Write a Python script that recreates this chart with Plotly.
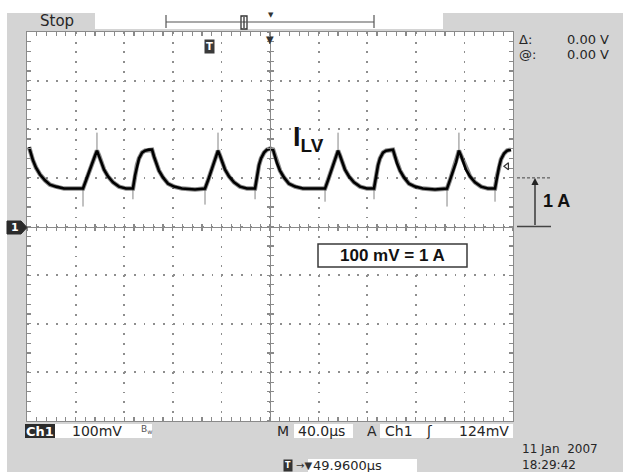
import plotly.graph_objects as go

# ---------------- data (read from the screen) ----------------
# time in microseconds (40 us/div, centre = 0), current probe voltage in mV (100 mV/div = 1 A/div)
t_us = [-198.3, -196.7, -195.1, -192.6, -189.3, -185.2, -181.1, -176.1, -169.5, -161.3, -153.9,
        -151.4, -149.0, -146.5, -144.0, -142.4, -140.7, -139.1, -136.6, -133.3, -129.2, -124.3, -118.5, -112.8,
        -111.1, -109.5, -107.8, -105.3, -102.9, -99.6, -97.1, -95.5, -93.8, -91.4, -88.1, -83.9, -79.0, -72.4, -61.7, -53.5,
        -51.0, -48.6, -46.1, -43.6, -42.8, -41.2, -39.5, -37.0, -33.7, -29.6, -24.7, -18.9, -12.3,
        -10.7, -9.1, -7.4, -4.9, -2.5, 0.0, 2.5, 4.1, 5.8, 8.2, 11.5, 15.6, 20.6, 27.2, 37.0, 45.3,
        47.7, 50.2, 52.7, 55.1, 56.0, 57.6, 59.3, 61.7, 65.0, 69.1, 74.1, 79.8, 85.6,
        87.2, 88.9, 90.5, 93.0, 95.5, 98.8, 101.2, 102.9, 104.5, 107.0, 110.3, 114.4, 119.3, 125.9, 135.8, 145.7,
        148.1, 150.6, 153.1, 154.7, 155.5, 157.2, 158.8, 161.3, 164.6, 168.7, 173.7, 179.4, 185.2,
        186.8, 188.5, 190.1, 192.6, 195.1, 198.3]
i_mv = [163, 148, 136, 121, 107, 95, 86, 82, 78, 78, 78,
        95, 113, 130, 146, 156, 146, 134, 117, 103, 91, 82, 78, 78,
        105, 126, 140, 152, 156, 158, 158, 144, 130, 115, 101, 88, 82, 78, 76, 78,
        95, 113, 132, 148, 156, 146, 134, 117, 103, 91, 82, 78, 78,
        105, 126, 140, 152, 158, 160, 158, 144, 130, 115, 101, 88, 82, 78, 78, 78,
        95, 113, 132, 148, 156, 146, 134, 117, 103, 91, 82, 78, 78,
        105, 126, 140, 152, 156, 158, 158, 144, 130, 115, 101, 88, 82, 78, 76, 78,
        95, 113, 132, 148, 156, 146, 134, 117, 103, 91, 82, 78, 78,
        103, 123, 138, 150, 156, 158]

# switching spikes (time, start level, end level)
spike_t = [-153.9, -142.4, -112.8, -53.5, -42.8, -12.3, 45.3, 56.0, 85.6, 145.7, 155.5, 185.2]
spike_from = [78, 156, 78, 78, 156, 78, 78, 156, 78, 78, 156, 78]
spike_to = [41, 193, 56, 45, 193, 56, 51, 193, 56, 41, 193, 51]

trigger_level_mv = 124
trigger_offset_us = -49.96
scale_mv = 100  # 100 mV = 1 A

# ---------------- geometry helpers (decorations only) ----------------
L, R, T, B = 27, 513, 32, 421
W, H = R - L, B - T


def PX(px):
    return (px - L) / W


def PY(py):
    return (B - py) / H


FONT = "DejaVu Sans"
INK = "#262626"
GRID = "#8e8e8e"
TICK = "#8a8a8a"

fig = go.Figure()

# fuzzy envelope + core trace
fig.add_trace(go.Scatter(x=t_us, y=i_mv, mode="lines",
                         line=dict(color="rgba(0,0,0,0.45)", width=4.5),
                         hoverinfo="skip", showlegend=False))
sx, sy = [], []
for t, a, b in zip(spike_t, spike_from, spike_to):
    sx += [t, t, None]
    sy += [a, b, None]
fig.add_trace(go.Scatter(x=sx, y=sy, mode="lines",
                         line=dict(color="rgba(50,50,50,0.6)", width=1),
                         hoverinfo="skip", showlegend=False))
fig.add_trace(go.Scatter(x=t_us, y=i_mv, mode="lines",
                         line=dict(color="#000000", width=2.6),
                         hoverinfo="skip", showlegend=False))
# trigger level indicator on the right edge
fig.add_trace(go.Scatter(x=[195], y=[trigger_level_mv], mode="markers",
                         marker=dict(symbol="triangle-left-open", size=6, color="#333",
                                     line=dict(width=1.2, color="#333")),
                         hoverinfo="skip", showlegend=False))
# invisible traces for the centre-cross axes
fig.add_trace(go.Scatter(x=[None], y=[None], xaxis="x2", yaxis="y2", showlegend=False))
fig.add_trace(go.Scatter(x=[None], y=[None], xaxis="x3", yaxis="y3", showlegend=False))

XR = [-200, 200]
YR = [-400, 400]

main_ax = dict(showgrid=True, gridcolor=GRID, gridwidth=1.8, griddash="1.8px,7.92px",
               zeroline=False, showticklabels=False, ticks="inside", ticklen=4,
               tickcolor=TICK, tickwidth=1.2, showline=True, linecolor="#8a8a8a", linewidth=1.3,
               mirror="ticks", fixedrange=True)
fig.update_layout(
    xaxis=dict(range=XR, dtick=40, minor=dict(dtick=8, ticks="inside", ticklen=4, tickcolor=TICK,
                                               tickwidth=1.2, showgrid=False), **main_ax),
    yaxis=dict(range=YR, dtick=100, minor=dict(dtick=20, ticks="inside", ticklen=4, tickcolor=TICK,
                                                tickwidth=1.2, showgrid=False), **main_ax),
)
centre = dict(showgrid=False, zeroline=False, showticklabels=False, fixedrange=True, ticklen=3,
              tickcolor=TICK, tickwidth=1.2)
fig.update_layout(
    xaxis2=dict(range=XR, overlaying="x", anchor="free", position=0.5, dtick=40, ticks="outside",
                showline=True, linecolor="#8a8a8a", linewidth=1.2,
                minor=dict(dtick=8, ticks="outside", ticklen=3, tickcolor=TICK, tickwidth=1.2), **centre),
    yaxis2=dict(range=YR, overlaying="y", anchor="free", position=0.5, dtick=100, ticks="outside",
                showline=True, linecolor="#8a8a8a", linewidth=1.2,
                minor=dict(dtick=20, ticks="outside", ticklen=3, tickcolor=TICK, tickwidth=1.2), **centre),
    xaxis3=dict(range=XR, overlaying="x", anchor="free", position=0.5, dtick=40, ticks="inside",
                showline=False, minor=dict(dtick=8, ticks="inside", ticklen=3, tickcolor=TICK, tickwidth=1.2), **centre),
    yaxis3=dict(range=YR, overlaying="y", anchor="free", position=0.5, dtick=100, ticks="inside",
                showline=False, minor=dict(dtick=20, ticks="inside", ticklen=3, tickcolor=TICK, tickwidth=1.2), **centre),
)

shapes = []


def rect(x0, y0, x1, y1, fill, line=None, lw=0):
    shapes.append(dict(type="rect", xref="paper", yref="paper",
                       x0=PX(x0), x1=PX(x1), y0=PY(y1), y1=PY(y0),
                       fillcolor=fill, line=dict(color=line or fill, width=lw), layer="below"))


def seg(x0, y0, x1, y1, color="#444", w=1, dash=None):
    d = dict(type="line", xref="paper", yref="paper", x0=PX(x0), x1=PX(x1), y0=PY(y0), y1=PY(y1),
             line=dict(color=color, width=w))
    if dash:
        d["line"]["dash"] = dash
    shapes.append(d)


# white frame at top / left of the screenshot
rect(0, 0, 623, 13, "white")
rect(0, 0, 7, 472, "white")
# record-view bar
rect(95, 13, 443, 29, "white")
seg(166, 15, 166, 28, "#555", 1.2)
seg(374, 15, 374, 28, "#555", 1.2)
seg(166, 22, 374, 22, "#555", 1.2)
rect(241, 16, 247, 29, "white", "#333", 1.3)
seg(244, 17, 244, 28, "#333", 1.3)
# status bar boxes
rect(25, 424, 55, 438, "#2b2b2b")
rect(55, 424, 152, 438, "white")
rect(294, 424, 353, 438, "white")
rect(380, 424, 513, 438, "white")
rect(308, 459, 417, 472, "white")
# ground marker "1"
shapes.append(dict(type="path", xref="paper", yref="paper",
                   path=f"M {PX(7)},{PY(221)} L {PX(21)},{PY(221)} L {PX(27)},{PY(227.5)} "
                        f"L {PX(21)},{PY(234)} L {PX(7)},{PY(234)} Z",
                   fillcolor="#2b2b2b", line=dict(color="#2b2b2b", width=1)))
# 100 mV = 1 A label box
shapes.append(dict(type="rect", xref="paper", yref="paper", x0=PX(318), x1=PX(467), y0=PY(267), y1=PY(244),
                   fillcolor="white", line=dict(color="#3a3a3a", width=1.5)))
# 1 A scale marker (0 to 100 mV)
shapes.append(dict(type="line", xref="paper", yref="y", x0=PX(517), x1=PX(551), y0=0, y1=0,
                   line=dict(color="#444", width=1.3)))
shapes.append(dict(type="line", xref="paper", yref="y", x0=PX(517), x1=PX(551), y0=scale_mv, y1=scale_mv,
                   line=dict(color="#444", width=1, dash="3px,2px")))

ann = []


def txt(s, px, py, xa="left", size=14, color=INK, family=FONT, **kw):
    ann.append(dict(text=s, x=PX(px), y=PY(py), xref="paper", yref="paper", xanchor=xa, yanchor="middle",
                    showarrow=False, font=dict(family=family, size=size, color=color), **kw))


txt("Stop", 57, 21, "center", 15)
txt("▼", 271, 15, "center", 7, "#333")
txt("Δ:", 517, 40, "left", 13)
txt("0.00 V", 611, 40, "right", 13)
txt("@:", 517, 54, "left", 13)
txt("0.00 V", 611, 54, "right", 13)
txt("<b>Ch1</b>", 40, 431, "center", 13, "white")
txt("100mV", 70, 431, "left", 14)
txt("B<sub>w</sub>", 146, 430, "center", 9, "#555")
txt("M", 283, 431, "center", 14)
txt("40.0µs", 296, 431, "left", 14)
txt("A", 372, 431, "center", 14)
txt("Ch1", 383, 431, "left", 14)
txt("ʃ", 429, 431, "center", 14)
txt("124mV", 511, 431, "right", 14)
txt("11 Jan  2007<br>18:29:42", 520, 456.5, "left", 12, align="left")
txt("<b>T</b>", 288, 465, "center", 8, "white", bgcolor="#333", borderpad=1)
txt("→▼", 294, 465, "left", 10, "#333")
txt("49.9600µs", 311, 465.5, "left", 13)
txt("<b>1</b>", 15, 227.5, "center", 11, "white")
txt("<b>100 mV = 1 A</b>", 392.5, 255.5, "center", 17, "#111", "Liberation Sans")
txt("<b>1 A</b>", 541, 201, "left", 18, "#111", "Liberation Sans")
txt("<b>I<sub>LV</sub></b>", 291, 139, "left", 27, "#111", "Liberation Sans")
# trigger position marker and centre marker on the graticule
ann.append(dict(text="<b>T</b>", x=trigger_offset_us, y=PY(46), xref="x", yref="paper", xanchor="center",
                yanchor="middle", showarrow=False, bgcolor="#3a3a3a", borderpad=1,
                font=dict(family=FONT, size=10, color="white")))
ann.append(dict(text="▼", x=0, y=1, xref="x", yref="paper", xanchor="center", yanchor="top",
                showarrow=False, font=dict(family=FONT, size=10, color="#333")))
# 1 A arrow
ann.append(dict(text="", x=PX(535), y=scale_mv, xref="paper", yref="y", ax=0, ay=0,
                axref="pixel", ayref="y", showarrow=True, arrowhead=2, arrowsize=1.1, arrowwidth=1.3,
                arrowcolor="#222"))

fig.update_layout(
    width=623, height=472, autosize=False,
    margin=dict(l=L, r=623 - R, t=T, b=472 - B, pad=0),
    paper_bgcolor="#d4d4d4", plot_bgcolor="white",
    showlegend=False, shapes=shapes, annotations=ann,
)

fig.write_html("out.html", config={"displayModeBar": False, "staticPlot": True})
